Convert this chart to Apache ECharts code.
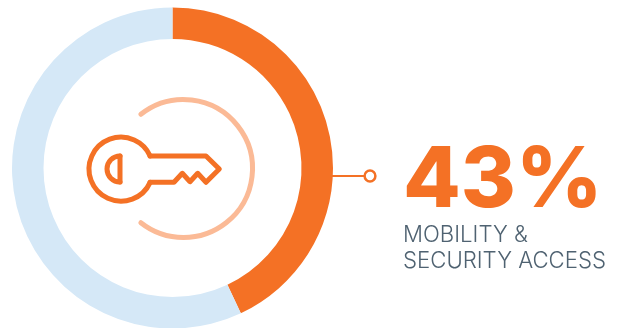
<!DOCTYPE html>
<html>
<head>
<meta charset="utf-8">
<style>html,body{margin:0;padding:0;background:#fff}#chart{width:620px;height:328px}</style>
<script src="https://cdn.jsdelivr.net/npm/echarts@6/dist/echarts.min.js"></script>
</head>
<body>
<div id="chart"></div>
<script>
const categories = ['Mobility & security access', 'Other'];
const shareValues = [43, 57];
const captionLines = ['MOBILITY &', 'SECURITY ACCESS'];

const ORANGE = '#F47125';
const PALE_BLUE = '#D5E8F7';
const PALE_ORANGE = '#FBBA96';
const SLATE = '#4F6271';

const iconStroke = { fill: 'none', stroke: ORANGE, lineWidth: 5, lineJoin: 'round', lineCap: 'round' };

const chart = echarts.init(document.getElementById('chart'), null, { renderer: 'canvas' });

chart.setOption({
  animation: false,
  backgroundColor: '#ffffff',
  series: [{
    type: 'pie',
    center: [172.5, 168],
    radius: [129, 160.5],
    startAngle: 90,
    clockwise: true,
    silent: true,
    label: { show: false },
    labelLine: { show: false },
    data: categories.map((name, i) => ({
      name,
      value: shareValues[i],
      itemStyle: { color: i === 0 ? ORANGE : PALE_BLUE }
    }))
  }],
  graphic: [
    // key: shaft and teeth
    {
      type: 'polyline',
      shape: {
        points: [[150, 156], [206, 156], [219.3, 169], [206, 182.3], [197.7, 173.3],
                 [190, 181.7], [182.3, 173.3], [174, 182.3], [150, 182.3]]
      },
      style: iconStroke
    },
    // key: round head
    {
      type: 'arc',
      shape: { cx: 121, cy: 169.15, r: 32, startAngle: 0.4255, endAngle: 2 * Math.PI - 0.4255, clockwise: true },
      style: iconStroke
    },
    // keyhole in the head
    {
      type: 'arc',
      shape: { cx: 120, cy: 169, r: 13, startAngle: Math.PI / 2, endAngle: 1.5 * Math.PI, clockwise: true },
      style: iconStroke
    },
    {
      type: 'line',
      shape: { x1: 120, y1: 156, x2: 120, y2: 182 },
      style: iconStroke
    },
    // open circle behind the key
    {
      type: 'arc',
      shape: { cx: 183.5, cy: 168.5, r: 69, startAngle: -2.237, endAngle: 2.237, clockwise: true },
      style: { fill: 'none', stroke: PALE_ORANGE, lineWidth: 5, lineCap: 'round' }
    },
    // leader from the ring to the figure
    {
      type: 'line',
      shape: { x1: 332, y1: 176, x2: 364, y2: 176 },
      style: { stroke: ORANGE, lineWidth: 2 }
    },
    {
      type: 'circle',
      shape: { cx: 370, cy: 176, r: 5.4 },
      style: { fill: '#fff', stroke: ORANGE, lineWidth: 2.5 }
    },
    // headline figure and caption
    {
      type: 'text',
      x: 403,
      y: 140,
      style: {
        text: shareValues[0] + '%',
        font: '800 84px Inter, sans-serif',
        fill: ORANGE
      }
    },
    {
      type: 'text',
      x: 403,
      y: 224,
      style: {
        text: captionLines[0],
        font: '300 22.2px Inter, sans-serif',
        fill: SLATE
      }
    },
    {
      type: 'text',
      x: 403,
      y: 250,
      style: {
        text: captionLines[1],
        font: '300 22.2px Inter, sans-serif',
        fill: SLATE
      }
    }
  ]
});
</script>
</body>
</html>
